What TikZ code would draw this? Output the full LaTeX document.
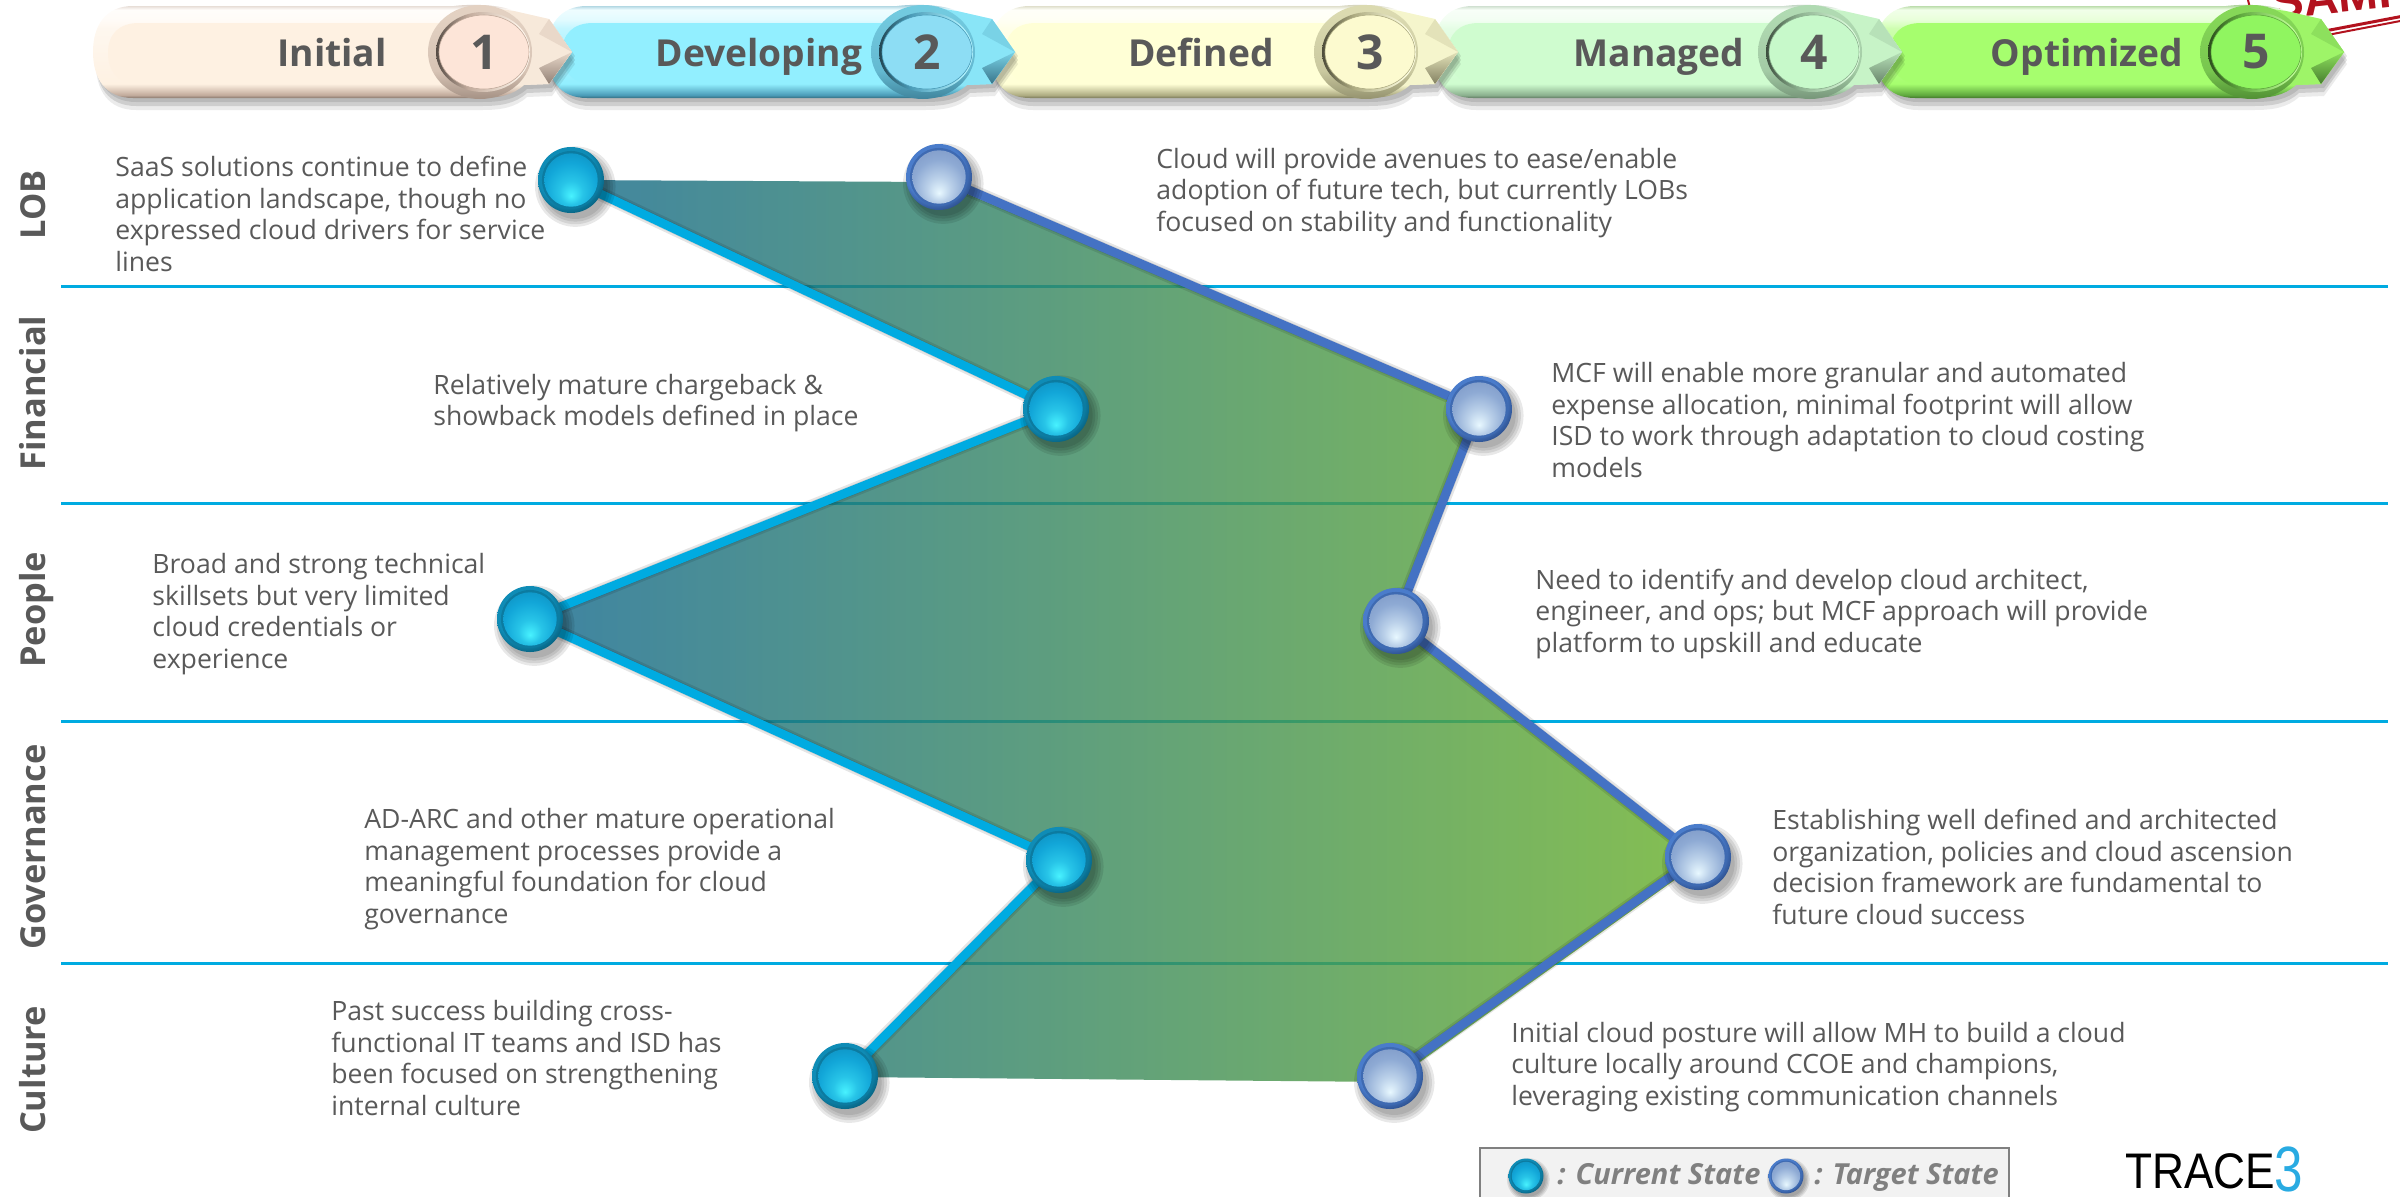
\documentclass[tikz,border=0pt]{standalone}
\usepackage{fontspec}
\setmainfont{Open Sans}
\newfontfamily\stampfont{Liberation Sans}
\usetikzlibrary{calc,shapes.geometric}
\pgfdeclarelayer{under}
\pgfsetlayers{under,main}
\definecolor{txt}{HTML}{595959}
\definecolor{lineC}{HTML}{00ABE1}
\definecolor{lineT}{HTML}{4472C4}
\definecolor{stampred}{RGB}{178,18,30}
\definecolor{logoblue}{RGB}{41,171,226}
\definecolor{gradL}{RGB}{14,101,139}
\definecolor{gradR}{RGB}{102,174,39}
\definecolor{hlc}{HTML}{48F2FF}
\definecolor{midc}{HTML}{12A6D8}
\definecolor{topc}{HTML}{0C88B8}
\definecolor{hlt}{HTML}{E8F8FF}
\definecolor{midt}{HTML}{8EAAD4}
\definecolor{topt}{HTML}{7893C2}
\pgfdeclareradialshading{innerC}{\pgfpoint{0bp}{-15bp}}{color(0bp)=(hlc);color(11bp)=(midc!60!hlc);color(24bp)=(midc);color(40bp)=(topc);color(50bp)=(topc)}
\pgfdeclareradialshading{innerT}{\pgfpoint{0bp}{-15bp}}{color(0bp)=(hlt);color(11bp)=(midt!50!hlt);color(24bp)=(midt);color(40bp)=(topt);color(50bp)=(topt)}
\definecolor{outerC1}{HTML}{0F8CB6}
\definecolor{outerC2}{HTML}{03485F}
\definecolor{outerT1}{HTML}{4A7CCB}
\definecolor{outerT2}{HTML}{1A3468}
\pgfdeclareradialshading{outerC}{\pgfpoint{-6bp}{8bp}}{color(0bp)=(outerC1);color(22bp)=(outerC1);color(34bp)=(outerC2);color(50bp)=(outerC2)}
\pgfdeclareradialshading{outerT}{\pgfpoint{-6bp}{8bp}}{color(0bp)=(outerT1);color(22bp)=(outerT1);color(34bp)=(outerT2);color(50bp)=(outerT2)}
\newcommand{\mkchev}[4]{%
 \definecolor{base#1}{HTML}{#2}\definecolor{dark#1}{HTML}{#3}\definecolor{circ#1}{HTML}{#4}%
 \pgfdeclareverticalshading{body#1}{100bp}{color(0bp)=(dark#1!70!black);color(25bp)=(dark#1!70!black);color(26.6bp)=(dark#1);color(29.3bp)=(dark#1!55!base#1);color(32.6bp)=(base#1);color(62bp)=(base#1!55!white);color(67bp)=(base#1!25!white);color(72bp)=(base#1!15!white);color(75bp)=(dark#1!60!white);color(100bp)=(dark#1!60!white)}%
 \pgfdeclareverticalshading{facet#1}{100bp}{color(0bp)=(dark#1!75!black);color(25bp)=(dark#1!75!black);color(75bp)=(dark#1!35!base#1);color(100bp)=(dark#1!35!base#1)}%
 \pgfdeclareverticalshading{collar#1}{100bp}{color(0bp)=(dark#1!85!black);color(25bp)=(dark#1!85!black);color(40bp)=(dark#1!65!base#1);color(70bp)=(dark#1!45!base#1);color(100bp)=(dark#1!45!base#1)}%
 \pgfdeclarehorizontalshading{ring#1}{100bp}{color(0bp)=(dark#1!45!black);color(25bp)=(dark#1!45!black);color(42bp)=(dark#1);color(70bp)=(base#1!70!white);color(100bp)=(base#1!70!white)}%
}
\mkchev{1}{FEF1E2}{C2AB9C}{FDE5D8}
\mkchev{2}{92EFFF}{4B9CB8}{8DDDF4}
\mkchev{3}{FFFFD6}{AEAC82}{FCFACF}
\mkchev{4}{CFFCCF}{8BB08E}{C7F9CA}
\mkchev{5}{A6FE6E}{5FA83E}{90F560}
\def\chevshape#1#2{({#1+40},6) -- ({#2-30},6) .. controls ({#2-15},4) and ({#2+15},4) .. ({#2+30},11) -- ({#2+65},19) -- ({#2+88},52) -- ({#2+65},84) -- ({#2+40},85) .. controls ({#2+28},96) and ({#2+13},98) .. ({#2-5},98) -- ({#1+40},98) .. controls ({#1+12},98) and (#1,78) .. (#1,52) .. controls (#1,26) and ({#1+12},6) .. ({#1+40},6) -- cycle}
% id, left, circle centre, label x, label, number
\newcommand{\chev}[6]{%
 \foreach \sy/\so in {4/.10,8/.12,12/.08}{\fill[black,opacity=\so,shift={(3,\sy)}] \chevshape{#2}{#3};}
 \shade[shading=body#1] \chevshape{#2}{#3};
 \fill[base#1] ({#2+46},23) -- ({#3-20},23) -- ({#3-20},84) -- ({#2+46},84) .. controls ({#2+26},84) and ({#2+15},72) .. ({#2+15},53) .. controls ({#2+15},34) and ({#2+26},23) .. ({#2+46},23) -- cycle;
 \fill[base#1!88!dark#1] ({#3+10},8) -- ({#3+30},11) -- ({#3+65},19) -- ({#3+88},52) -- ({#3+65},84) -- ({#3+40},85) -- ({#3+10},90) -- cycle;
 \fill[dark#1!35!base#1] ({#3+88},52) -- ({#3+65},19) -- ({#3+55},34) -- cycle;
 \shade[shading=facet#1] ({#3+88},52) -- ({#3+65},84) -- ({#3+55},68) -- cycle;
 \shade[shading=collar#1] ({#3-4},52) ellipse [x radius=52,y radius=47];
 \shade[shading=ring#1] ({#3-1},52) ellipse [x radius=47,y radius=40];
 \node[numoval,fill=circ#1,draw=dark#1] (num#1) at (#3,52) {#6};
 \node[chevtext] (lab#1) at (#4,66) {#5};
}
% name, x, y, radius px, kind
\newcommand{\ball}[5]{%
 \foreach \k/\f in {1/.98,2/1.06,3/1.14,4/1.22}{\fill[black,opacity=.09] ({#2+#4*.13},{#3+#4*.2}) circle ({#4*\f*0.5pt});}
 \node[circle,inner sep=0pt,minimum size={#4*1pt},shading=outer#5] (#1) at (#2,#3) {};
 \fill[outer#51!75!outer#52] (#1.center) circle ({#4*.44pt});
 \shade[shading=inner#5] (#1.center) circle ({#4*.405pt});
}
\tikzset{
 x=0.5pt,y=-0.5pt,
 bodytext/.style={anchor=west,align=left,text=txt,inner sep=0pt,font=\fontsize{13.3}{15.7}\selectfont},
 rowlabel/.style={rotate=90,anchor=base,text=txt,inner sep=0pt,font=\fontsize{17.2}{20}\selectfont\bfseries},
 chevtext/.style={anchor=base,text=txt,inner sep=0pt,font=\fontsize{18.6}{22}\selectfont\bfseries},
 numoval/.style={ellipse,inner sep=0pt,minimum width=45pt,minimum height=37pt,line width=.3pt,text=txt,font=\fontsize{24}{26}\selectfont\bfseries},
 sepline/.style={lineC,line width=1.5pt},
 curline/.style={lineC,line width=4.4pt,line join=round},
 tarline/.style={lineT,line width=4.4pt,line join=round},
 lineshadow/.style={black,opacity=.1,line join=round,shift={(3,6)}},
 legendtext/.style={anchor=base west,text=black!50,inner sep=0pt,font=\fontsize{14.5}{16}\selectfont\bfseries\itshape},
}
\begin{document}
\begin{tikzpicture}
\useasboundingbox (0,0) rectangle (2400,1196);
\begin{scope}
\clip (0,0) rectangle (2400,1196);
% stamp
\node[anchor=base west,inner sep=0pt,rotate=6,text=stampred,font=\stampfont\fontsize{24}{28}\selectfont\bfseries] (stamp) at (2273,20) {SAMPLE};
\draw[stampred,line width=1.5pt] (2200,54.7) -- (2420,12.9);
\draw[stampred,line width=1pt] (2200,59.5) -- (2420,17.2);
\draw[stampred,line width=1pt] (2248,0) -- (2250,8);
\chev{5}{1875}{2256}{2087}{Optimized}{5}
\chev{4}{1433}{1814}{1659}{Managed}{4}
\chev{3}{990}{1370}{1201}{Defined}{3}
\chev{2}{547}{927}{759}{Developing}{2}
\chev{1}{93}{484}{332}{Initial}{1}
\end{scope}
% state nodes
\ball{t1}{939}{177}{33}{T}
\ball{t2}{1479}{409}{33}{T}
\ball{t3}{1396}{621}{33}{T}
\ball{t4}{1698}{857}{33}{T}
\ball{t5}{1390}{1076}{33}{T}
\ball{c1}{571}{180}{33}{C}
\ball{c2}{1056}{409}{33}{C}
\ball{c3}{530}{619}{33}{C}
\ball{c4}{1059}{860}{33}{C}
\ball{c5}{845}{1076}{33}{C}
% under layer
\begin{pgfonlayer}{under}
\foreach \n/\yy in {1/286,2/503,3/721,4/963}{
 \coordinate (sa\n) at (61,\yy);
 \coordinate (sb\n) at (2388,\yy);
 \draw[sepline] (sa\n) -- (sb\n);
}
\shade[left color=gradL,right color=gradR,fill opacity=.8]
 (c1.center) -- ($(t1.center)+(0,5)$) -- (t2.center) -- (t3.center) -- (t4.center) -- ($(t4.center)+(-8,12)$) -- ($(t5.center)+(2,6)$) -- ($(c5.center)+(0,1)$) -- (c4.center) -- (c3.center) -- (c2.center) -- cycle;
\draw[lineshadow,line width=7pt] (c1.center) -- (c2.center) -- (c3.center) -- (c4.center) -- (c5.center);
\draw[lineshadow,line width=5pt] (c1.center) -- (c2.center) -- (c3.center) -- (c4.center) -- (c5.center);
\draw[lineshadow,line width=7pt] (t1.center) -- (t2.center) -- (t3.center) -- (t4.center) -- (t5.center);
\draw[lineshadow,line width=5pt] (t1.center) -- (t2.center) -- (t3.center) -- (t4.center) -- (t5.center);
\draw[curline] (c1.center) -- (c2.center) -- (c3.center) -- (c4.center) -- (c5.center);
\draw[tarline] (t1.center) -- (t2.center) -- (t3.center) -- (t4.center) -- (t5.center);
\end{pgfonlayer}
% row labels
\node[rowlabel] (rLOB) at (45,205) {LOB};
\node[rowlabel] (rFin) at (45,393) {Financial};
\node[rowlabel] (rPeo) at (45,610) {People};
\node[rowlabel] (rGov) at (45,847) {Governance};
\node[rowlabel] (rCul) at (45,1070) {Culture};
% body texts
\node[bodytext] (x1) at (115,214) {SaaS solutions continue to define\\application landscape, though no\\expressed cloud drivers for service\\lines};
\node[bodytext] (x2) at (1156,193) {Cloud will provide avenues to ease/enable\\adoption of future tech, but currently LOBs\\focused on stability and functionality};
\node[bodytext] (x3) at (433,403) {Relatively mature chargeback \&\\showback models defined in place};
\node[bodytext] (x4) at (1551,420) {MCF will enable more granular and automated\\expense allocation, minimal footprint will allow\\ISD to work through adaptation to cloud costing\\models};
\node[bodytext] (x5) at (152,614) {Broad and strong technical\\skillsets but very limited\\cloud credentials or\\experience};
\node[bodytext] (x6) at (1535,614) {Need to identify and develop cloud architect,\\engineer, and ops; but MCF approach will provide\\platform to upskill and educate};
\node[bodytext] (x7) at (364,869) {AD-ARC and other mature operational\\management processes provide a\\meaningful foundation for cloud\\governance};
\node[bodytext] (x8) at (1772,867) {Establishing well defined and architected\\organization, policies and cloud ascension\\decision framework are fundamental to\\future cloud success};
\node[bodytext] (x9) at (331,1058) {Past success building cross-\\functional IT teams and ISD has\\been focused on strengthening\\internal culture};
\node[bodytext] (x10) at (1511,1067) {Initial cloud posture will allow MH to build a cloud\\culture locally around CCOE and champions,\\leveraging existing communication channels};
% legend
\begin{scope}
\clip (0,0) rectangle (2400,1196);
\fill[black!5] (1480,1148) rectangle (2009,1210);
\draw[black!50,line width=1pt] (1480,1210) -- (1480,1148) -- (2009,1148) -- (2009,1210);
\ball{lc}{1526}{1176}{17.5}{C}
\ball{lt}{1786}{1176}{17.5}{T}
\node[legendtext] (lct) at (1557,1184) {: Current State};
\node[legendtext] (ltt) at (1814,1184) {: Target State};
\end{scope}
% logo
\node[anchor=base west,inner sep=0pt,xscale=.885,font=\stampfont\fontsize{25}{28}\selectfont] (logoA) at (2125,1188) {TRACE};
\node[anchor=base west,inner sep=0pt,xscale=.8,text=logoblue,font=\stampfont\fontsize{32}{36}\selectfont] (logoB) at (2274,1191) {3};
\end{tikzpicture}
\end{document}
